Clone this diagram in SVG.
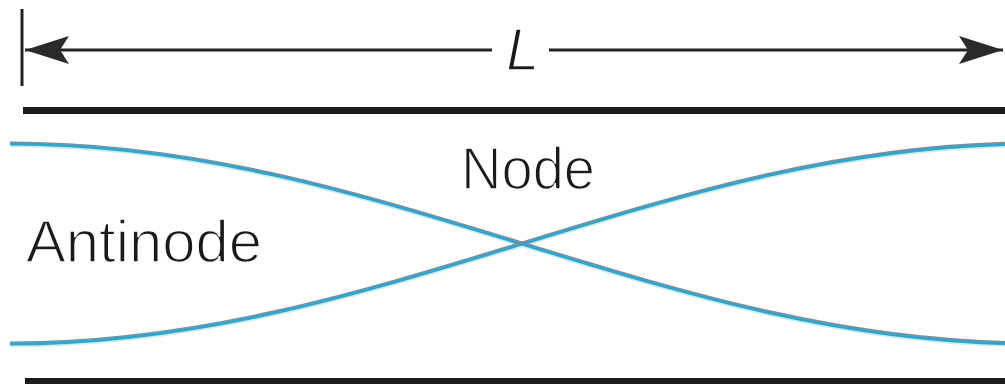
<svg xmlns="http://www.w3.org/2000/svg" width="1005" height="384" viewBox="0 0 1005 384">
<style>
.lbl{font-family:"Liberation Sans",Arial,sans-serif;font-size:60px;fill:#1a1a1a;stroke:#ffffff;stroke-width:1.6px;}
.dim{stroke:#222;stroke-width:3;fill:none;}
.halo{fill:none;stroke:#bdf5ff;stroke-width:3;}
.wave{fill:none;stroke:#2ba6d6;stroke-width:3.2;}
.edge{fill:none;stroke:#8a8a8a;stroke-width:1.6;}
</style>
<defs>
<marker id="ah" viewBox="0 0 46 30" refX="44" refY="15" markerWidth="46" markerHeight="30" markerUnits="userSpaceOnUse" orient="auto-start-reverse">
<path d="M0,1 L44,15 L0,29 L9,15 Z" fill="#2a2a2a"/>
</marker>
<path id="w1" d="M10,144 C195.3,144 355,192.8 522,244 C689,295.2 848.7,344 1034,344"/>
<path id="w2" d="M10,344 C195.3,344 355,295.2 522,244 C689,192.8 848.7,144 1034,144"/>
</defs>
<rect width="1005" height="384" fill="#ffffff"/>
<g id="plates">
<rect x="23" y="107" width="982" height="7" fill="#1c1c1c"/>
<rect x="25" y="378" width="980" height="6" fill="#1c1c1c"/>
</g>
<g id="connectors">
<line class="dim" x1="22" y1="9" x2="22" y2="86"/>
<line class="dim" x1="492" y1="50" x2="25" y2="50" marker-end="url(#ah)"/>
<line class="dim" x1="549" y1="50" x2="1003" y2="50" marker-end="url(#ah)"/>
</g>
<g id="waves">
<use href="#w1" class="halo" transform="translate(0,1.8)"/>
<use href="#w2" class="halo" transform="translate(0,1.8)"/>
<use href="#w1" class="wave"/>
<use href="#w2" class="wave"/>
<use href="#w1" class="edge" transform="translate(0,-1.8)"/>
<use href="#w2" class="edge" transform="translate(0,-1.8)"/>
</g>
<g id="label-L">
<text class="lbl" x="506" y="70" font-style="italic">L</text>
</g>
<g id="node-label">
<text class="lbl" x="461" y="189" textLength="134" lengthAdjust="spacingAndGlyphs">Node</text>
</g>
<g id="antinode-label">
<text class="lbl" x="26" y="262" textLength="236" lengthAdjust="spacingAndGlyphs">Antinode</text>
</g>
</svg>
